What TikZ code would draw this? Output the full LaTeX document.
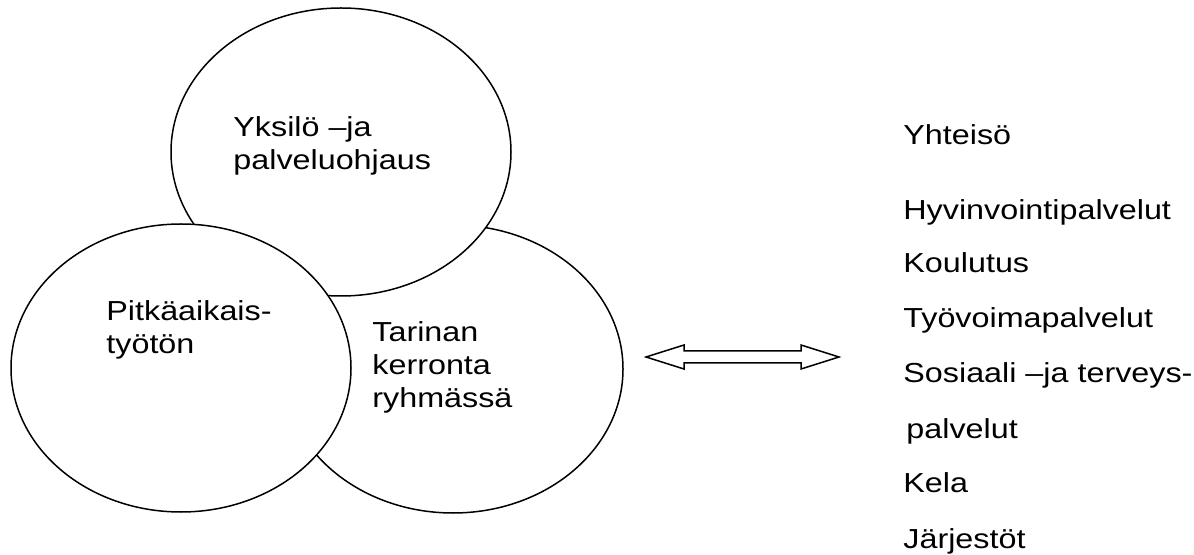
\documentclass[tikz,border=0pt]{standalone}
\usepackage{fontspec}
\setmainfont{Liberation Sans}[FakeStretch=1.175]
\usetikzlibrary{shapes.geometric}
\tikzset{
  circ/.style={ellipse, draw, fill=white, line width=0.75pt,
    minimum width=170pt, minimum height=144pt, inner sep=0pt},
  txt/.style={anchor=base west, inner sep=0pt, font=\fontsize{13.75}{16}\selectfont},
  arrowline/.style={draw, line width=0.75pt, line join=miter}
}

\begin{document}
\begin{tikzpicture}[x=0.5pt, y=-0.5pt]
\useasboundingbox (0,0) rectangle (1194,555);

% the three circles, the left one on top
\node[circ] (tarina) at (453,369) {};
\node[circ] (yksilo) at (341,152) {};
\node[circ] (tyoton) at (181,368) {};

\node[txt] (yksiloA) at (233,137) {Yksilö –ja};
\node[txt] (yksiloB) at (233,170) {palveluohjaus};
\node[txt] (tyotonA) at (106,321) {Pitkäaikais-};
\node[txt] (tyotonB) at (106,354) {työtön};
\node[txt] (tarinaA) at (372,342) {Tarinan};
\node[txt] (tarinaB) at (372,375) {kerronta};
\node[txt] (tarinaC) at (372,408) {ryhmässä};

% double arrow
\coordinate (linkL) at (646,357);
\coordinate (linkR) at (839,357);
\draw[arrowline] (linkL) -- ++(38,-12) -- ++(0,6) -- ++(117,0) -- ++(0,-6)
  -- (linkR) -- ++(-38,12) -- ++(0,-6) -- ++(-117,0) -- ++(0,6) -- cycle;

% community list
\node[txt] (yhteiso) at (903,145) {Yhteisö};
\node[txt] (hyvinvointi) at (903,220) {Hyvinvointipalvelut};
\node[txt] (koulutus) at (903,273) {Koulutus};
\node[txt] (tyovoima) at (903,328) {Työvoimapalvelut};
\node[txt] (sosiaali) at (903,383) {Sosiaali –ja terveys-};
\node[txt] (palvelut) at (906,438) {palvelut};
\node[txt] (kela) at (903,493) {Kela};
\node[txt] (jarjestot) at (903,548) {Järjestöt};
\end{tikzpicture}
\end{document}
